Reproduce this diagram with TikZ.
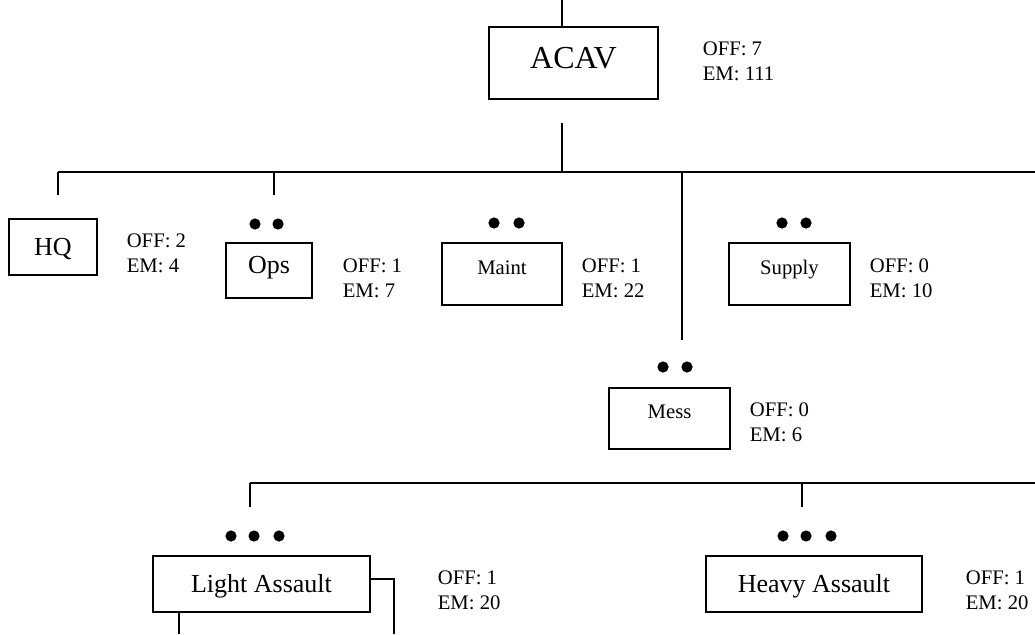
\documentclass[tikz,border=0pt]{standalone}
\usepackage{fontspec}
\setmainfont{Liberation Serif}
\begin{document}
\begin{tikzpicture}[x=1pt,y=-1pt,line width=1.6pt,
  box/.style={draw,line width=1.6pt,inner sep=0pt},
  big/.style={box,font=\fontsize{26}{30}\selectfont},
  small/.style={box,font=\fontsize{20.7}{24}\selectfont,text height=14pt,text depth=14pt},
  info/.style={anchor=base west,inner sep=0pt,font=\fontsize{20.7}{24}\selectfont},
  dot/.style={fill=black}]
\useasboundingbox (0,0) rectangle (1035,634);
% boxes
\node[box,minimum width=169pt,minimum height=72pt,font=\fontsize{32}{38}\selectfont,text height=22pt,text depth=12pt] (acav) at (573.5,63) {ACAV};
\node[big,minimum width=88pt,minimum height=56pt,text height=17pt,text depth=0pt] (hq) at (53,247) {HQ};
\node[big,minimum width=86pt,minimum height=55pt,text height=17pt,text depth=12pt] (ops) at (269,270.5) {Ops};
\node[small,minimum width=120pt,minimum height=62pt] (maint) at (502,274) {Maint};
\node[small,minimum width=121pt,minimum height=62pt] (supply) at (789.5,274) {Supply};
\node[small,minimum width=121pt,minimum height=61pt,text depth=15pt] (mess) at (669.5,418.5) {Mess};
\node[big,minimum width=217pt,minimum height=56pt,text height=17pt,text depth=0pt] (light) at (261.5,584) {Light Assault};
\node[big,minimum width=216pt,minimum height=56pt,text height=17pt,text depth=0pt] (heavy) at (814,584) {Heavy Assault};
% info texts
\node[info] (acavoff) at (702,56) {OFF: 7};
\node[info] (acavem) at (702,80.5) {EM: 111};
\node[info] (hqoff) at (126,247.5) {OFF: 2};
\node[info] (hqem) at (126,272) {EM: 4};
\node[info] (opsoff) at (342,272.5) {OFF: 1};
\node[info] (opsem) at (342,297) {EM: 7};
\node[info] (maintoff) at (581,272.5) {OFF: 1};
\node[info] (maintem) at (581,297) {EM: 22};
\node[info] (supoff) at (869,272.5) {OFF: 0};
\node[info] (supem) at (869,297) {EM: 10};
\node[info] (messoff) at (749,416.5) {OFF: 0};
\node[info] (messem) at (749,441) {EM: 6};
\node[info] (lightoff) at (437,584.5) {OFF: 1};
\node[info] (lightem) at (437,609) {EM: 20};
\node[info] (heavyoff) at (965,584.5) {OFF: 1};
\node[info] (heavyem) at (965,609) {EM: 20};
% dots
\foreach \x in {255,278} \fill[dot] (\x,224) circle (5.6);
\foreach \x in {494,519} \fill[dot] (\x,223) circle (5.6);
\foreach \x in {782,806} \fill[dot] (\x,223) circle (5.6);
\foreach \x in {663,687} \fill[dot] (\x,367) circle (5.6);
\foreach \x in {231,254,279} \fill[dot] (\x,536) circle (5.6);
\foreach \x in {783,806,831} \fill[dot] (\x,536) circle (5.6);
% coordinates
\coordinate (top) at (562,0);
\coordinate (acavlow) at (562,123);
\coordinate (busmid) at (562,172);
\coordinate (busL) at (58,172);
\coordinate (busR) at (1035,172);
\coordinate (hqdrop) at (58,195);
\coordinate (opsbus) at (274,172);
\coordinate (opsdrop) at (274,195);
\coordinate (messbus) at (682,172);
\coordinate (messdrop) at (682,340);
\coordinate (bus2L) at (250,483);
\coordinate (bus2R) at (1035,483);
\coordinate (lightdrop) at (250,507);
\coordinate (heavybus) at (802,483);
\coordinate (heavydrop) at (802,507);
\coordinate (lr) at (394,634);
\coordinate (ll) at (179,634);
% connectors
\draw (top) -- (top |- acav.north);
\draw (acavlow) -- (busmid);
\draw (busL) -- (busR);
\draw (busL) -- (hqdrop);
\draw (opsbus) -- (opsdrop);
\draw (messbus) -- (messdrop);
\draw (bus2L) -- (bus2R);
\draw (bus2L) -- (lightdrop);
\draw (heavybus) -- (heavydrop);
\draw ([yshift=5pt]light.east) -| (lr);
\draw (ll |- light.south) -- (ll);
\end{tikzpicture}
\end{document}
